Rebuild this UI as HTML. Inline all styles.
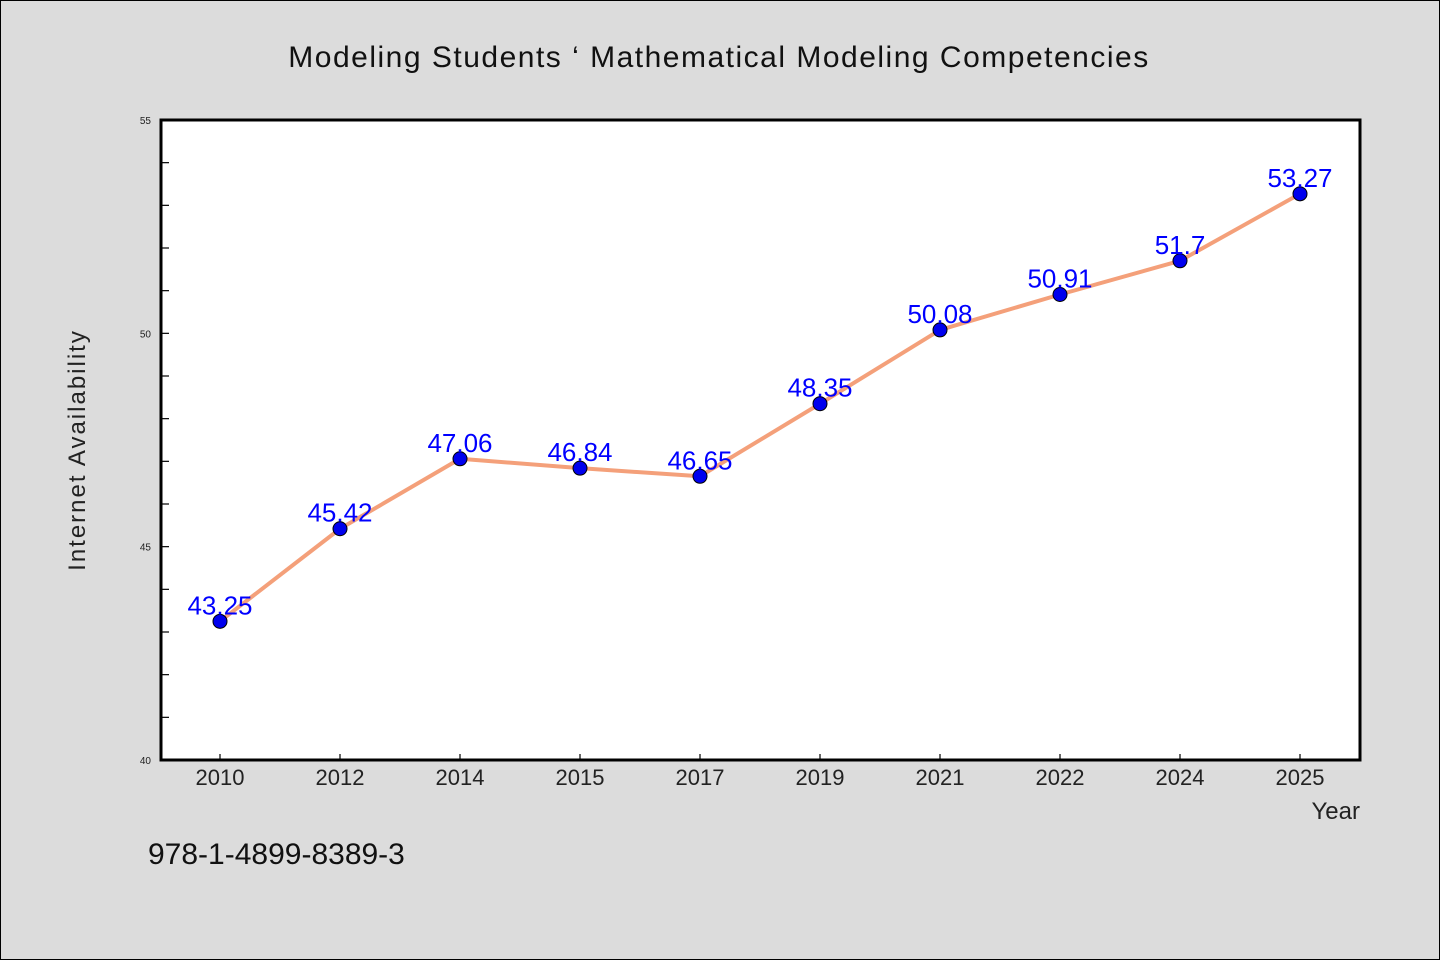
<!DOCTYPE html>
<html><head><meta charset="utf-8"><style>
html,body{margin:0;padding:0;background:#dcdcdc;}
svg{display:block;font-family:"WenQuanYi Zen Hei","Liberation Sans",sans-serif;}
</style></head><body>
<svg width="1440" height="960" viewBox="0 0 1440 960">
<rect x="0.5" y="0.5" width="1439" height="959" fill="#dcdcdc" stroke="#000" stroke-width="1"/>
<text x="719" y="67" font-size="30" text-anchor="middle" fill="#111" letter-spacing="1.5">Modeling Students ‘ Mathematical Modeling Competencies</text>
<rect x="161" y="120" width="1199" height="640" fill="#fff"/>
<g id="ticks"></g>
<rect x="161" y="120" width="1199" height="640" fill="none" stroke="#000" stroke-width="3"/>
<g id="series"></g>
<text x="85" y="450" font-size="24" fill="#222" text-anchor="middle" letter-spacing="2" transform="rotate(-90 85 450)">Internet Availability</text>
<text x="1360" y="819" font-size="24" fill="#222" text-anchor="end">Year</text>
<text x="148" y="864" font-size="30" fill="#111">978-1-4899-8389-3</text>
</svg>
<script>
const categories=["2010","2012","2014","2015","2017","2019","2021","2022","2024","2025"];
const values=[43.25,45.42,47.06,46.84,46.65,48.35,50.08,50.91,51.7,53.27];
const labels=["43.25","45.42","47.06","46.84","46.65","48.35","50.08","50.91","51.7","53.27"];
const yTicks=[40,45,50,55];
const yMin=40,yMax=55;
const NS="http://www.w3.org/2000/svg";
function xs(i){return 220+i*120;}
function ys(v){return 760-(v-yMin)/(yMax-yMin)*640;}
const tg=document.getElementById('ticks');
function mk(tag,a,p){const e=document.createElementNS(NS,tag);for(const k in a)e.setAttribute(k,a[k]);p.appendChild(e);return e;}
for(let v=yMin;v<=yMax;v++){
  const t=mk('line',{x1:161,x2:169,y1:ys(v),y2:ys(v),stroke:'#000','stroke-width':1.2},tg);
  
  
}
yTicks.forEach(v=>{
  const t=mk('text',{x:151,y:ys(v)+4,'font-size':10,fill:'#222','text-anchor':'end'},tg);
  t.textContent=v;
  
  
});
categories.forEach((c,i)=>{
  const l=mk('line',{x1:xs(i),x2:xs(i),y1:760,y2:754,stroke:'#000','stroke-width':1.2},tg);
  
  
  const t=mk('text',{x:xs(i),y:785,'font-size':22,fill:'#222','text-anchor':'middle'},tg);
  t.textContent=c;
  
  
});
const sg=document.getElementById('series');
const line=mk('polyline',{points:values.map((v,i)=>xs(i)+','+ys(v)).join(' '),fill:'none',stroke:'#f4a07a','stroke-width':4,'stroke-linejoin':'round'},sg);


values.forEach((v,i)=>{
  const c=mk('circle',{cx:xs(i),cy:ys(v),r:7,fill:'#0000ee',stroke:'#000','stroke-width':1},sg);
  
  
  const t=mk('text',{x:xs(i),y:ys(v)-7,'font-size':26,fill:'#0000ff','text-anchor':'middle'},sg);
  t.textContent=labels[i];
  
  
});
</script>
</body></html>
